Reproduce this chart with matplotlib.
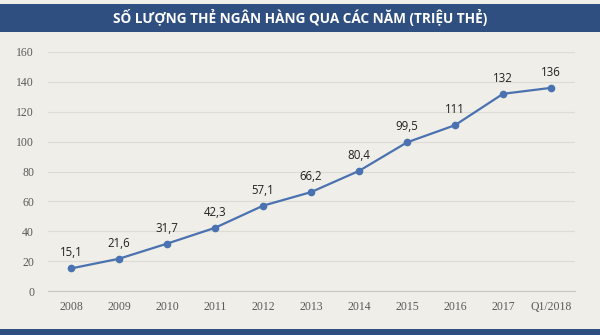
import matplotlib
matplotlib.use('Agg')
import matplotlib.pyplot as plt
from matplotlib.patches import Rectangle

years = ['2008', '2009', '2010', '2011', '2012', '2013', '2014', '2015', '2016', '2017', 'Q1/2018']
cards = [15.1, 21.6, 31.7, 42.3, 57.1, 66.2, 80.4, 99.5, 111, 132, 136]
labels = ['15,1', '21,6', '31,7', '42,3', '57,1', '66,2', '80,4', '99,5', '111', '132', '136']
title = 'SỐ LƯỢNG THẺ NGÂN HÀNG QUA CÁC NĂM (TRIỆU THẺ)'

bg = '#efeee8'
navy = '#2f4f80'
line_col = '#4a72b0'

fig = plt.figure(figsize=(6, 3.35), dpi=100, facecolor=bg)

# header and footer bands
fig.patches.append(Rectangle((0, 1 - 32 / 335), 1, 28 / 335, transform=fig.transFigure,
                             facecolor=navy, edgecolor='none', zorder=0))
fig.patches.append(Rectangle((0, 0), 1, 6 / 335, transform=fig.transFigure,
                             facecolor=navy, edgecolor='none', zorder=0))
fig.text(0.5, 1 - 18 / 335, title, color='white', fontsize=9.8, fontweight='bold',
         family='Open Sans', ha='center', va='center')

ax = fig.add_axes([48 / 600, 44 / 335, (575 - 48) / 600, (291 - 52) / 335])
ax.set_facecolor(bg)
x = list(range(len(years)))
ax.plot(x, cards, color=line_col, lw=1.6, marker='o', ms=4.5, zorder=3)
for xi, v, s in zip(x, cards, labels):
    ax.annotate(s, (xi, v), xytext=(0, 6.5), textcoords='offset points', ha='center',
                va='bottom', fontsize=8.3, color='#222222', family='Open Sans')

ax.set_xlim(-0.48, 10.5)
ax.set_ylim(0, 160)
ax.set_yticks(range(0, 161, 20))
ax.set_xticks(x)
ax.set_xticklabels(years)
ax.grid(axis='y', color='#dcdbd4', lw=0.8)
ax.set_axisbelow(True)
for sp in ['top', 'right', 'left']:
    ax.spines[sp].set_visible(False)
ax.spines['bottom'].set_color('#c8c7c0')
ax.tick_params(length=0, labelsize=8.5, labelcolor='#5a5a5a', pad=7)
ax.tick_params(axis='y', pad=10)
for t in ax.get_xticklabels() + ax.get_yticklabels():
    t.set_family('Liberation Serif')

fig.savefig('out.png', dpi=100, facecolor=bg)
